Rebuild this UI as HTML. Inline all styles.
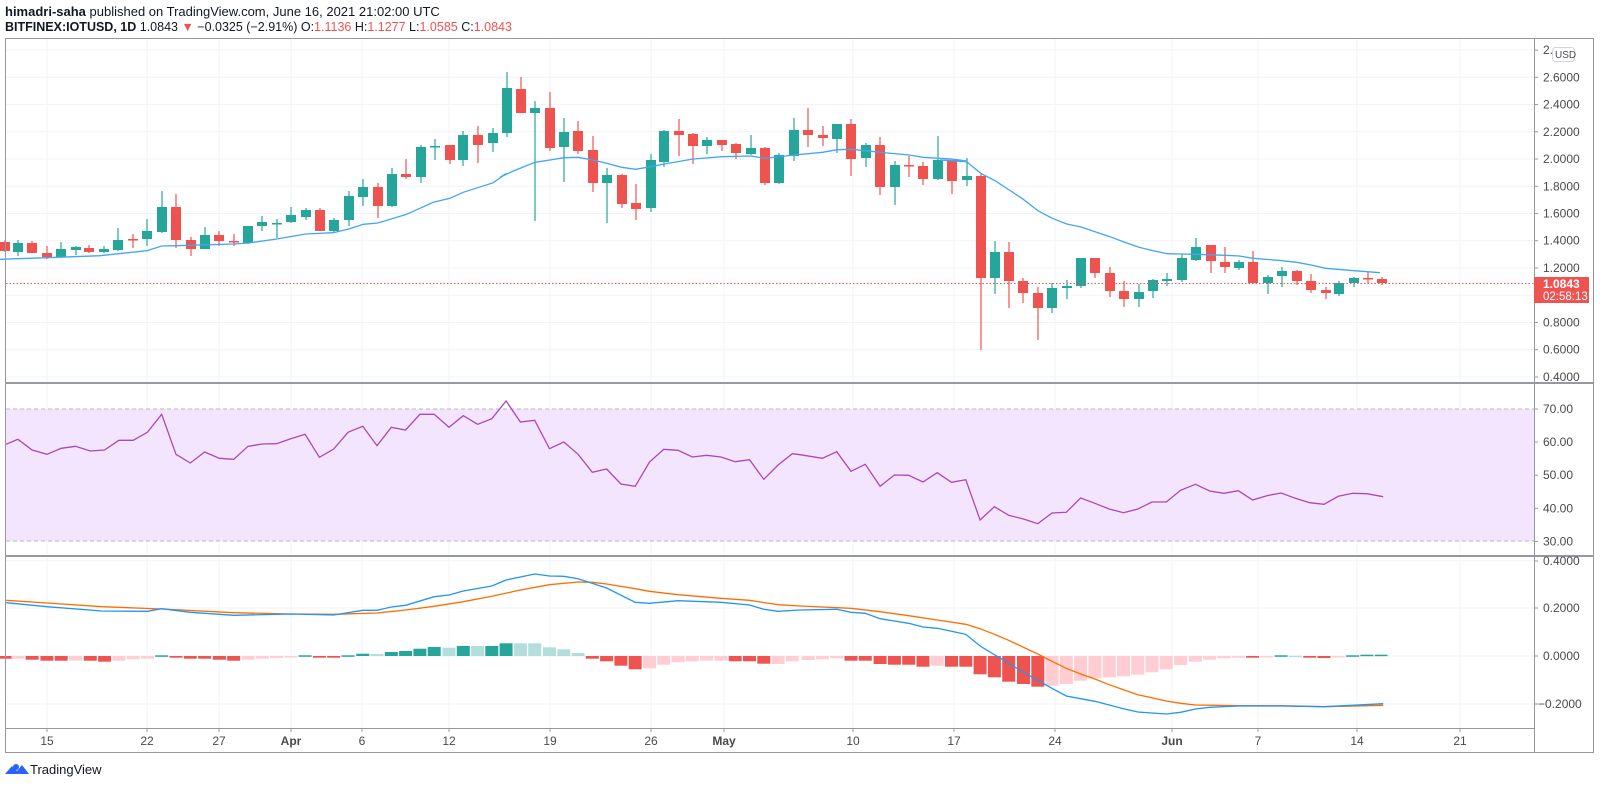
<!DOCTYPE html>
<html><head><meta charset="utf-8"><style>
html,body{margin:0;padding:0;background:#fff;width:1600px;height:785px;overflow:hidden;font-family:"Liberation Sans",sans-serif}
svg{position:absolute;left:0;top:0}
</style></head><body>
<svg id="s" width="1600" height="785" xmlns="http://www.w3.org/2000/svg" font-family="Liberation Sans, sans-serif">
<text x="5" y="16" font-size="13" fill="#131722"><tspan font-weight="bold">himadri-saha</tspan> published on TradingView.com, June 16, 2021 21:02:00 UTC</text>
<text x="5" y="31" font-size="12.5" fill="#131722"><tspan font-weight="bold">BITFINEX:IOTUSD, 1D</tspan> 1.0843 <tspan fill="#ef5350">▼</tspan> −0.0325 (−2.91%) O:<tspan fill="#ef5350">1.1136</tspan> H:<tspan fill="#ef5350">1.1277</tspan> L:<tspan fill="#ef5350">1.0585</tspan> C:<tspan fill="#ef5350">1.0843</tspan></text>
<g id="grid" stroke="#f0f3fa" stroke-width="1"></g>
<rect x="6" y="409" width="1528" height="132" fill="#f3e5fd"/>
<line x1="6" y1="409" x2="1534" y2="409" stroke="#b8b8c0" stroke-dasharray="4,3"/>
<line x1="6" y1="541" x2="1534" y2="541" stroke="#b8b8c0" stroke-dasharray="4,3"/>
<g id="main"></g>
<g id="ind"></g>
<line x1="6" y1="283.5" x2="1534" y2="283.5" stroke="#ef5350" stroke-dasharray="1.5,2"/>
<rect x="5.5" y="38.5" width="1588" height="714" fill="none" stroke="#9598a1"/>
<line x1="1534.5" y1="38" x2="1534.5" y2="752" stroke="#9598a1"/>
<line x1="5" y1="383" x2="1594" y2="383" stroke="#9598a1" stroke-width="2"/>
<line x1="5" y1="556" x2="1594" y2="556" stroke="#9598a1" stroke-width="2"/>
<line x1="5" y1="728.5" x2="1534" y2="728.5" stroke="#9598a1"/>
<g id="axis" font-size="12" fill="#4a4a4a"></g>
<rect x="1534" y="277" width="55" height="26" fill="#ef5350"/>
<text x="1543" y="288" font-size="12" fill="#fff" font-weight="bold">1.0843</text>
<text x="1543" y="300" font-size="11.5" fill="#fff">02:58:13</text>
<rect x="1552.5" y="47.5" width="22" height="14" rx="3" fill="#fff" stroke="#d1d4dc"/>
<text x="1555" y="58" font-size="10" fill="#4a4a4a">USD</text>
<g transform="translate(5,762)"><path d="M0 12 L7 4 L12 9 L17 3 L24 12 Z" fill="#2962ff"/><circle cx="11" cy="5" r="3" fill="#2962ff"/></g>
<text x="30" y="774" font-size="13" fill="#131722">TradingView</text>
</svg>
<script>
const NS="http://www.w3.org/2000/svg";
function el(p,t,a,txt){const e=document.createElementNS(NS,t);for(const k in a)e.setAttribute(k,a[k]);if(txt!=null)e.textContent=txt;document.getElementById(p).appendChild(e);return e;}
const vx=[47,147,219,291,362,449,550,651,724,853,954,1055,1172,1258,1357,1460];
vx.forEach(x=>el("grid","line",{x1:x,y1:39,x2:x,y2:728}));
for(let i=0;i<=11;i++){const y=77.3+i*27.24;el("grid","line",{x1:6,y1:y,x2:1534,y2:y});}
el("grid","line",{x1:6,y1:50,x2:1534,y2:50});
[442,475,508].forEach(y=>el("grid","line",{x1:6,y1:y,x2:1534,y2:y,stroke:"#e8dcf5"}));
[560.7,608,656,704].forEach(y=>el("grid","line",{x1:6,y1:y,x2:1534,y2:y}));
const C=[[5,242,251,240,252,0],[18,243,252,240,256,1],[32,243,253,241,253,0],[47,253,257,246,259,0],[61,249,257,242,258,1],[76,247,250,246,255,1],[89,248,252,245,253,0],[104,249,252,246,253,1],[118,240,250,228,251,1],[133,239,240,234,248,0],[147,231,239,219,246,1],[162,207,232,191,233,1],[176,207,240,194,248,0],[191,240,249,237,256,0],[205,235,249,227,249,1],[219,235,241,231,246,0],[234,241,242,234,246,0],[248,226,243,226,244,1],[262,222,226,216,231,1],[277,223,224,219,238,1],[291,215,222,207,223,1],[306,210,217,208,220,1],[320,210,231,208,231,0],[334,220,231,218,233,1],[349,196,220,191,226,1],[363,187,197,179,206,1],[378,187,206,183,218,0],[392,174,206,168,207,1],[406,174,177,159,179,0],[421,147,177,145,183,1],[435,146,147,139,160,1],[450,145,160,145,164,0],[463,135,160,131,166,1],[478,135,145,126,163,0],[493,133,143,128,152,1],[507,88,133,72,137,1],
[521,89,113,77,113,0],[535,108,113,101,221,1],[550,108,148,92,151,0],[564,132,147,118,182,1],[578,131,151,121,154,0],[593,150,183,136,192,0],[607,175,183,168,223,1],[622,175,204,174,208,0],[636,203,209,184,220,0],[651,160,208,154,212,1],[664,131,162,130,167,1],[679,131,135,119,156,0],[693,134,146,133,164,0],[707,140,146,137,154,1],[722,140,145,140,151,0],[736,144,153,143,159,0],[751,148,154,135,155,1],[765,148,183,147,185,0],[779,155,183,153,184,1],[794,130,156,118,161,1],[808,130,135,108,147,0],[823,135,138,126,146,0],[837,124,139,124,153,1],[851,124,159,119,176,0],[866,145,158,143,167,1],[880,145,187,137,195,0],[895,165,187,161,205,1],[909,165,166,156,177,0],[923,166,179,162,185,0],[938,160,179,136,180,1],[952,160,181,160,194,0],[967,176,180,158,186,1],
[981,176,278,173,350,0],[995,252,278,241,294,1],[1009,252,281,242,308,0],[1023,281,293,278,303,0],[1038,293,308,287,340,0],[1052,288,308,283,313,1],[1067,286,288,280,299,1],[1081,258,286,258,288,1],[1095,258,273,258,278,0],[1110,273,291,267,297,0],[1124,291,299,281,307,0],[1139,292,299,284,307,1],[1153,280,291,279,298,1],[1167,279,281,273,286,1],[1182,258,280,254,282,1],[1196,247,260,238,261,1],[1211,245,261,245,273,0],[1225,262,267,247,273,0],[1239,262,268,260,270,1],[1253,262,283,251,283,0],[1268,277,283,275,294,1],[1282,271,276,267,287,1],[1297,271,281,270,285,0],[1311,281,290,274,293,0],[1326,290,293,287,299,0],[1339,283,294,281,296,1],[1354,278,283,277,287,1],[1368,278,279,272,283,0],[1382,279,283,277,285,0]];
C.forEach(c=>{const col=c[5]?"#26a69a":"#ef5350";
el("main","line",{x1:c[0],y1:c[3],x2:c[0],y2:c[4],stroke:col,"stroke-width":1.2});
el("main","rect",{x:c[0]-5,y:c[1],width:10,height:Math.max(1.5,c[2]-c[1]),fill:col});});
function pts(arr,ox,oy,sx,sy,addx){let s=[];for(let i=0;i<arr.length;i+=2)s.push(((arr[i]+(addx||0))*sx+ox).toFixed(1)+","+(arr[i+1]*sy+oy).toFixed(1));return s;}
let ma=[].concat(
pts([0,598,140,593,300,587,440,572,485,558,530,557,700,552,745,549,830,537,917,522,1000,518,1046,507,1090,493,1133,489,1220,463,1300,427,1350,415,1390,397,1480,368,1520,340],0,60,1/3,1/3),
pts([0,352,40,333,105,307,150,300,192,293,234,292,278,300,320,310,365,322,407,328,452,320,493,312,580,297,667,290,752,288,795,295,882,285,968,277,1012,269,1054,268,1097,272,1140,277,1227,285,1270,292,1355,297,1400,303],500,60,1/3,1/3),
pts([0,30,80,35,122,70,165,92,208,120,250,148,295,183,337,205,380,222,423,231,465,245,510,260,552,276,597,292,640,302,682,311,725,312,768,313,855,316,898,318,940,325,1027,332,1070,337,1113,345,1157,355,1242,362,1320,368],940,150,1/3,1/3));
el("main","polyline",{points:ma.join(" "),fill:"none",stroke:"#42a5f5","stroke-width":1.3});
const sx=1/1.96,sy=1/3;
const H1=[[12,896,0],[35,896,1],[63,899,0],[92,902,0],[120,902,0],[148,902,1],[177,902,0],[205,905,0],[233,902,1],[261,898,1],[289,896,1],[317,886,2],[345,893,0],[373,896,0],[401,896,0],[430,899,0],[458,902,0],[486,899,1],[514,896,1],[542,894,1],[570,892,1],[598,886,2],[626,893,0],[654,893,0],[682,886,2],[711,881,2],[739,882,3],[767,876,2],[795,873,2],[823,866,2],[851,861,2],[880,863,3],[908,858,2],[936,858,3],[964,858,2],[992,850,2],[1020,850,3],[1048,850,3],[1077,862,3],[1105,868,3],[1133,879,3],[1161,896,0],[1189,904,0],[1217,917,0],[1245,928,0],[1273,925,1],[1301,914,1],[1329,907,1],[1357,904,1],[1385,902,1],[1413,902,1],[1441,904,0],[1469,904,0],[1497,911,0],[1525,912,1],[1553,904,1]];
const H2=[[16,900,1],[44,898,1],[72,895,1],[100,902,0],[128,902,0],[157,912,0],[185,914,0],[213,914,0],[241,920,0],[269,917,1],[297,920,0],[325,920,0],[353,943,0],[381,952,0],[409,965,0],[438,972,0],[466,980,0],[494,977,1],[522,972,1],[550,962,1],[578,955,1],[606,952,1],[634,949,1],[662,944,1],[690,937,1],[718,928,1],[746,915,1],[775,905,1],[803,899,1],[831,895,1],[859,893,1],[887,893,0],[915,892,1],[943,886,2],[971,887,3],[999,893,0],[1027,894,0],[1055,892,1],[1083,886,2],[1111,884,2],[1139,884,2]];
const HC=["#ef5350","#ffcdd2","#26a69a","#b2dfdb"];
H1.concat(H2.map(h=>[h[0]+1568,h[1],h[2]])).forEach(h=>{const x=h[0]*sx,y=360+h[1]*sy,z=656;
el("ind","rect",{x:(x-6.5).toFixed(1),y:Math.min(y,z).toFixed(1),width:13,height:Math.max(1.5,Math.abs(y-z)).toFixed(1),fill:HC[h[2]]});});
function line2(a,b,col){const p=pts(a,0,360,sx,sy).concat(pts(b,800,360,sx,sy));el("ind","polyline",{points:p.join(" "),fill:"none",stroke:col,"stroke-width":1.3});}
line2([12,253,35,238,63,270,92,283,120,265,148,259,177,273,205,270,233,241,261,241,289,217,317,163,345,283,373,309,401,276,430,295,458,298,486,259,514,252,542,251,570,236,598,223,626,292,654,267,682,217,711,199,739,257,767,202,795,210,823,163,851,163,880,202,908,167,936,193,964,176,992,123,1020,186,1048,181,1077,266,1105,246,1133,283,1161,337,1189,327,1217,372,1245,379,1273,306,1301,268,1329,271,1357,291,1385,286,1413,291,1441,305,1469,299,1497,358,1525,315,1553,281],
[0,284,44,295,72,275,100,334,128,313,157,379,185,345,213,346,241,366,269,338,297,367,325,359,353,480,381,440,409,466,438,477,466,491,494,459,522,457,550,414,578,430,606,447,634,458,662,447,690,426,718,426,746,391,775,373,803,393,831,400,859,392,887,420,915,407,943,399,971,415,999,428,1027,433,1055,409,1083,400,1111,401,1143,410],"#ab47bc");
line2([12,721,92,729,200,740,317,747,458,758,570,762,654,763,739,759,795,750,851,739,908,725,964,709,1020,690,1077,674,1133,666,1161,667,1189,672,1245,686,1273,694,1329,704,1413,715,1469,721,1525,734,1568,738],
[0,738,100,745,157,755,213,767,269,780,325,793,353,806,381,823,409,841,438,862,466,882,494,904,522,925,550,942,578,957,606,974,634,989,662,1004,718,1023,746,1030,775,1035,859,1037,943,1037,1027,1040,1143,1036],"#ff6d00");
line2([12,728,92,740,200,753,289,754,317,746,373,757,458,766,570,762,654,765,711,751,739,751,767,741,795,736,851,710,880,705,908,693,964,678,992,660,1048,642,1077,648,1105,649,1133,656,1189,684,1245,727,1273,730,1329,722,1413,727,1469,735,1497,748,1525,754,1568,750],
[0,750,72,748,100,757,128,760,157,776,213,790,241,801,269,805,297,814,325,823,353,858,381,884,409,910,438,937,466,961,494,985,522,1008,550,1016,578,1024,606,1035,634,1046,662,1056,718,1062,746,1057,775,1047,803,1042,859,1038,943,1038,1027,1040,1083,1036,1143,1031],"#2196f3");
function lab(y,t){el("axis","line",{x1:1534,y1:y,x2:1538,y2:y,stroke:"#9598a1"});el("axis","text",{x:t[0]=="−"?1538:1543,y:y+4},t);}
["2.6000","2.4000","2.2000","2.0000","1.8000","1.6000","1.4000","1.2000"].forEach((t,i)=>lab(77.3+i*27.24,t));
lab(50.1,"2.");
["0.8000","0.6000","0.4000"].forEach((t,i)=>lab(322.5+i*27.24,t));
["70.00","60.00","50.00","40.00","30.00"].forEach((t,i)=>lab(409+i*33.1,t));
lab(561,"0.4000");lab(608,"0.2000");lab(656,"0.0000");lab(704,"−0.2000");
const xl=[[47,"15"],[147,"22"],[219,"27"],[291,"Apr"],[362,"6"],[449,"12"],[550,"19"],[651,"26"],[724,"May"],[853,"10"],[954,"17"],[1055,"24"],[1172,"Jun"],[1258,"7"],[1357,"14"],[1460,"21"]];
xl.forEach(l=>{el("axis","line",{x1:l[0],y1:728,x2:l[0],y2:732,stroke:"#9598a1"});const t=el("axis","text",{x:l[0],y:745,"text-anchor":"middle"},l[1]);if(isNaN(+l[1]))t.setAttribute("font-weight","bold");});
</script>
</body></html>
